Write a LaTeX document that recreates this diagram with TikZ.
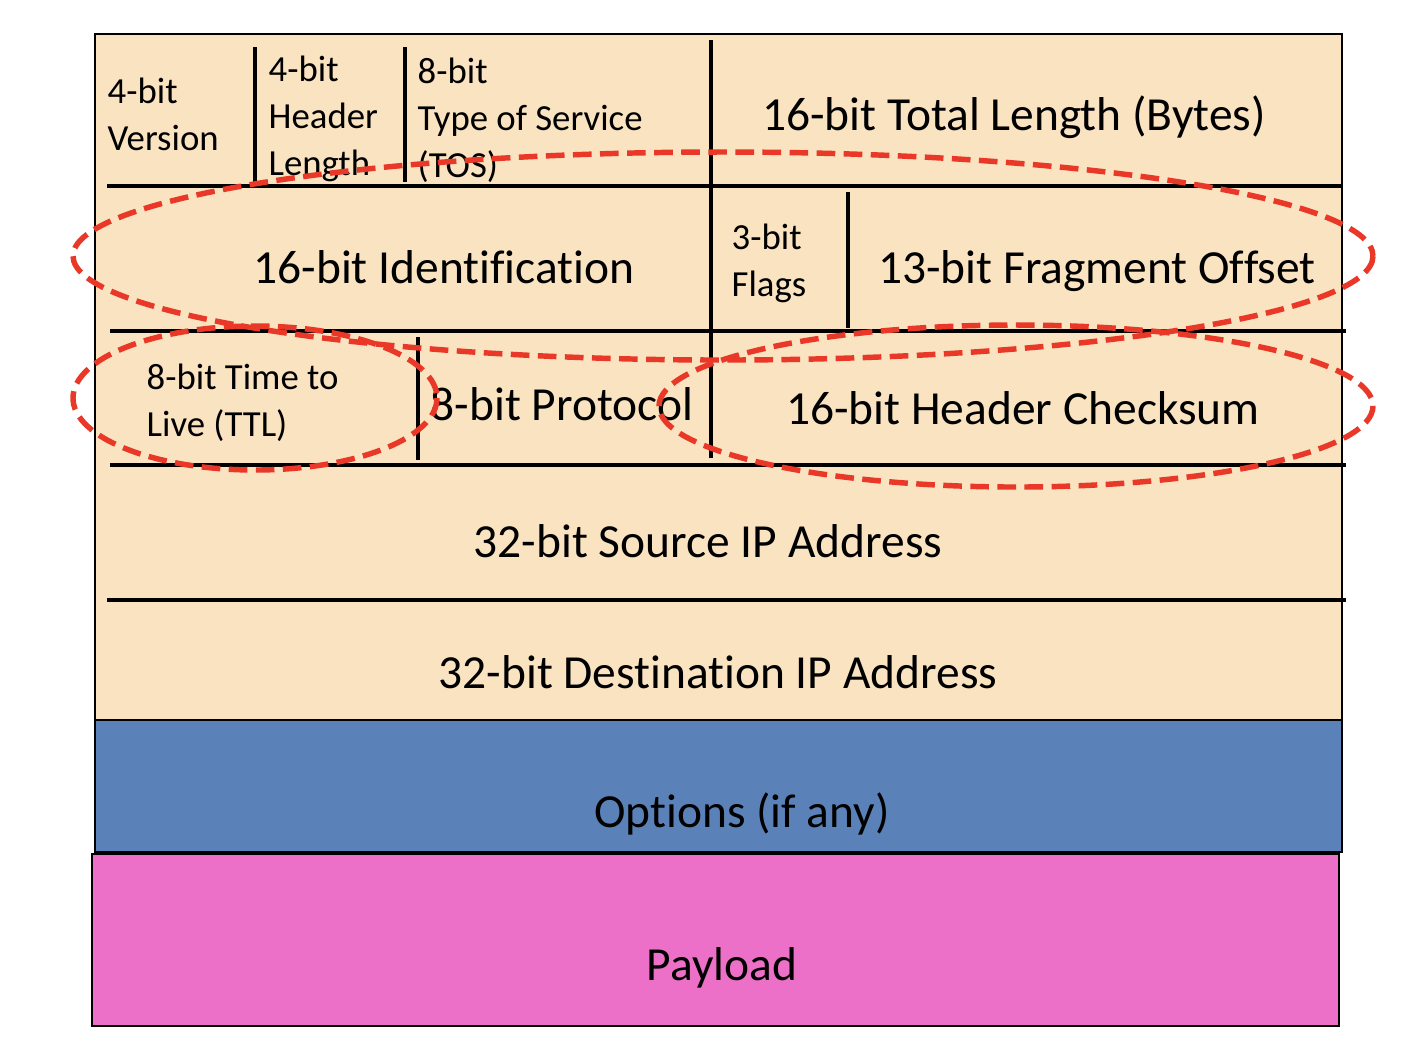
\documentclass[tikz,border=0pt]{standalone}
\usepackage{fontspec}
\setmainfont{Carlito}[Ligatures=NoCommon]
\definecolor{hdr}{RGB}{249,227,192}
\definecolor{opt}{RGB}{90,130,184}
\definecolor{pay}{RGB}{236,112,199}
\definecolor{hl}{RGB}{233,56,40}
\tikzset{
  big/.style={font=\fontsize{13.5}{15}\selectfont, inner sep=0pt},
  small/.style={font=\fontsize{10.45}{13.3}\selectfont, align=left, anchor=west, inner sep=0pt},
  sep/.style={line width=1.25pt},
  ring/.style={draw=hl, line width=1.55pt, dash pattern=on 5.3pt off 2.4pt}
}
\begin{document}
\begin{tikzpicture}[x=0.01cm,y=-0.01cm]
\useasboundingbox (0,0) rectangle (1412,1062);
\draw [fill=hdr, line width=0.5pt] (95,34) rectangle (1342,720);
\draw [fill=opt, line width=0.7pt] (95,720) rectangle (1342,852);
\draw [fill=pay, line width=0.8pt] (92,854) rectangle (1339,1026);
% field borders
\draw [sep] (107,186) -- (1342,186);
\foreach \y in {331,465}
	\draw [sep] (110,\y) -- (1346,\y);
\draw [sep] (107,600) -- (1346,600);
\draw [sep] (711,40) -- (711,458);
\foreach \x in {255,405}
	\draw [sep] (\x,47) -- (\x,182);
\draw [sep] (848,192) -- (848,328);
\draw [sep] (418,337) -- (418,460);
% fields
\node [small] (ver) at (107,114) {4-bit\\Version};
\node [small] (ihl) at (268,119) {4-bit\\Header\\Length};
\node [small] (tos) at (417,120) {8-bit\\Type of Service\\(TOS)};
\node [big] (len) at (1014,117) {16-bit Total Length (Bytes)};
\node [big] (id) at (444,267) {16-bit Identification};
\node [small] (flags) at (731,263) {3-bit\\Flags};
\node [big] (frag) at (1097,271) {13-bit Fragment Offset};
\node [small] (ttl) at (146,403) {8-bit Time to\\Live (TTL)};
\node [big] (proto) at (562,404) {8-bit Protocol};
\node [big] (sum) at (1023,408) {16-bit Header Checksum};
\node [big] (src) at (708,541) {32-bit Source IP Address};
\node [big] (dst) at (718,672) {32-bit Destination IP Address};
\node [big] (opts) at (742,814) {Options (if any)};
\node [big] (load) at (722,968) {Payload};
% highlighted fields
\draw [ring] (723,256) ellipse [x radius=650, y radius=104];
\draw [ring] (255,398) ellipse [x radius=182, y radius=72];
\draw [ring] (1016,406) ellipse [x radius=357, y radius=81];
\end{tikzpicture}
\end{document}
